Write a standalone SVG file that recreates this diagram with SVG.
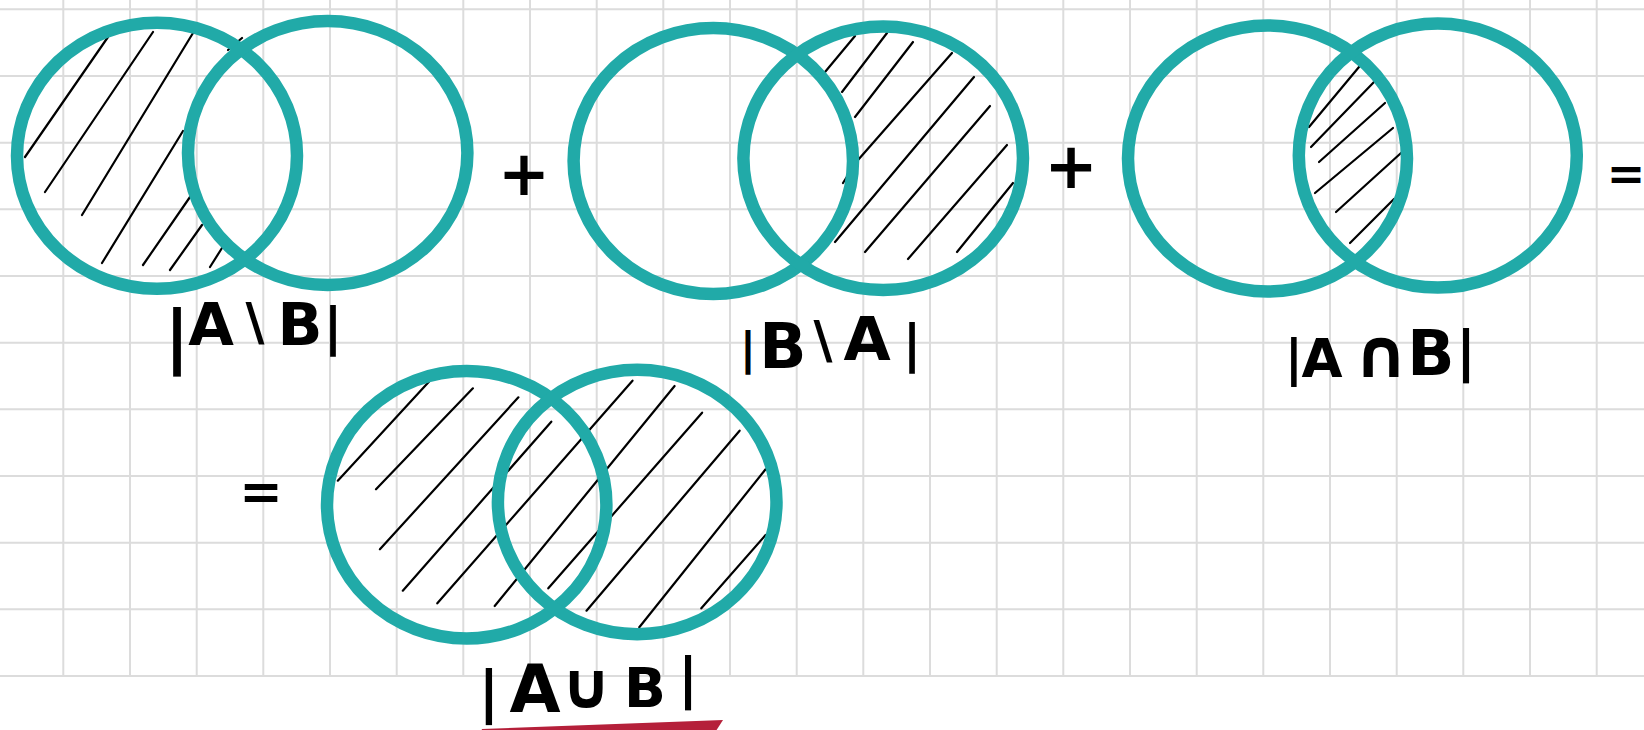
<svg xmlns="http://www.w3.org/2000/svg" width="1644" height="730" viewBox="0 0 1644 730">
<style>
.grid{stroke:#dcdcdc;stroke-width:2;fill:none}
.ring{fill:none;stroke:#21aaa8;stroke-width:12.5}
.hatch{fill:none;stroke:#000;stroke-width:2.2;stroke-linecap:round}
.lbl{font-family:"DejaVu Sans","Liberation Sans",sans-serif;font-weight:bold;fill:#000;text-anchor:middle}
</style>
<rect width="1644" height="730" fill="#fff"/>
<path class="grid" d="M63.3 0V676M130 0V676M196.7 0V676M263.3 0V676M330 0V676M396.7 0V676M463.3 0V676M530 0V676M596.7 0V676M663.3 0V676M730 0V676M796.7 0V676M863.3 0V676M930 0V676M996.7 0V676M1063.3 0V676M1130 0V676M1196.7 0V676M1263.3 0V676M1330 0V676M1396.7 0V676M1463.3 0V676M1530 0V676M1596.7 0V676M0 9.3H1644M0 76H1644M0 142.7H1644M0 209.3H1644M0 276H1644M0 342.7H1644M0 409.3H1644M0 476H1644M0 542.7H1644M0 609.3H1644M0 676H1644"/>

<g id="venn-a-minus-b">
<path class="hatch" d="M25 157L108 37M45 192L153 32M82 215L193 33M102 263L183 131M143 265L190 197M170 270L202 225M210 267L222 248M228 50L242 38"/>
<ellipse class="ring" cx="157" cy="155.7" rx="140" ry="133"/>
<ellipse class="ring" cx="327.7" cy="153" rx="139.7" ry="132"/>
<text class="lbl"><tspan x="177" y="360" font-size="70">|</tspan><tspan x="211" y="345" font-size="59">A</tspan><tspan x="255" y="340" font-size="52">\</tspan><tspan x="300" y="345" font-size="59">B</tspan><tspan x="333" y="344" font-size="52">|</tspan></text>
</g>

<g id="plus-1"><text class="lbl" x="524" y="195" font-size="62">+</text></g>

<g id="venn-b-minus-a">
<path class="hatch" d="M825 72L855 36M842 92L887 33M855 117L913 42M858 160L952 53M835 242L974 77M865 252L990 106M908 259L1007 145M957 252L1013 183M843 183L848 175"/>
<ellipse class="ring" cx="713.3" cy="161" rx="139.7" ry="133"/>
<ellipse class="ring" cx="883.2" cy="158.3" rx="139.8" ry="131.7"/>
<text class="lbl"><tspan x="748" y="364" font-size="45">|</tspan><tspan x="783" y="368" font-size="62">B</tspan><tspan x="823" y="358" font-size="52">\</tspan><tspan x="867" y="360" font-size="61">A</tspan><tspan x="912" y="361" font-size="51">|</tspan></text>
</g>

<g id="plus-2"><text class="lbl" x="1071" y="188" font-size="64">+</text></g>

<g id="venn-a-cap-b">
<path class="hatch" d="M1309 127L1359 67M1311 147L1374 82M1319 162L1385 103M1315 193L1393 128M1336 212L1401 153M1350 243L1394 199"/>
<ellipse class="ring" cx="1267.5" cy="158.5" rx="139.5" ry="133"/>
<ellipse class="ring" cx="1437.8" cy="155.6" rx="139" ry="132"/>
<text class="lbl"><tspan x="1294" y="375" font-size="50">|</tspan><tspan x="1322" y="377" font-size="53">A</tspan><tspan x="1381" y="377" font-size="68">∩</tspan><tspan x="1431" y="375" font-size="62">B</tspan><tspan x="1466" y="370" font-size="55">|</tspan></text>
</g>

<g id="equals-1"><text class="lbl" x="1626" y="190" font-size="46">=</text></g>

<g id="equals-2"><text class="lbl" x="261" y="509" font-size="52">=</text></g>

<g id="venn-a-cup-b">
<path class="hatch" d="M337.8 480.7L428.9 381.7M376 489.3L472.9 388.3M379.9 549.3L518.4 397.3M402.8 590.7L551.3 421.7M437.3 603.3L632.5 380.7M494.7 606L674.6 386M548.3 588.3L702.1 412.7M586.5 610.7L739.6 430.7M639.3 627.3L765.6 469.3M701.3 608.3L765.6 535"/>
<ellipse class="ring" cx="466.7" cy="504.8" rx="139.7" ry="133.7"/>
<ellipse class="ring" cx="637.2" cy="502" rx="139.3" ry="132.2"/>
<text class="lbl"><tspan x="489" y="711" font-size="57">|</tspan><tspan x="535" y="712" font-size="66">A</tspan><tspan x="586" y="708" font-size="64">∪</tspan><tspan x="645" y="707" font-size="55">B</tspan><tspan x="688" y="697" font-size="55">|</tspan></text>
<polygon points="482,729 723,720 714,734 480,734" fill="#b5203a"/>
</g>
</svg>
